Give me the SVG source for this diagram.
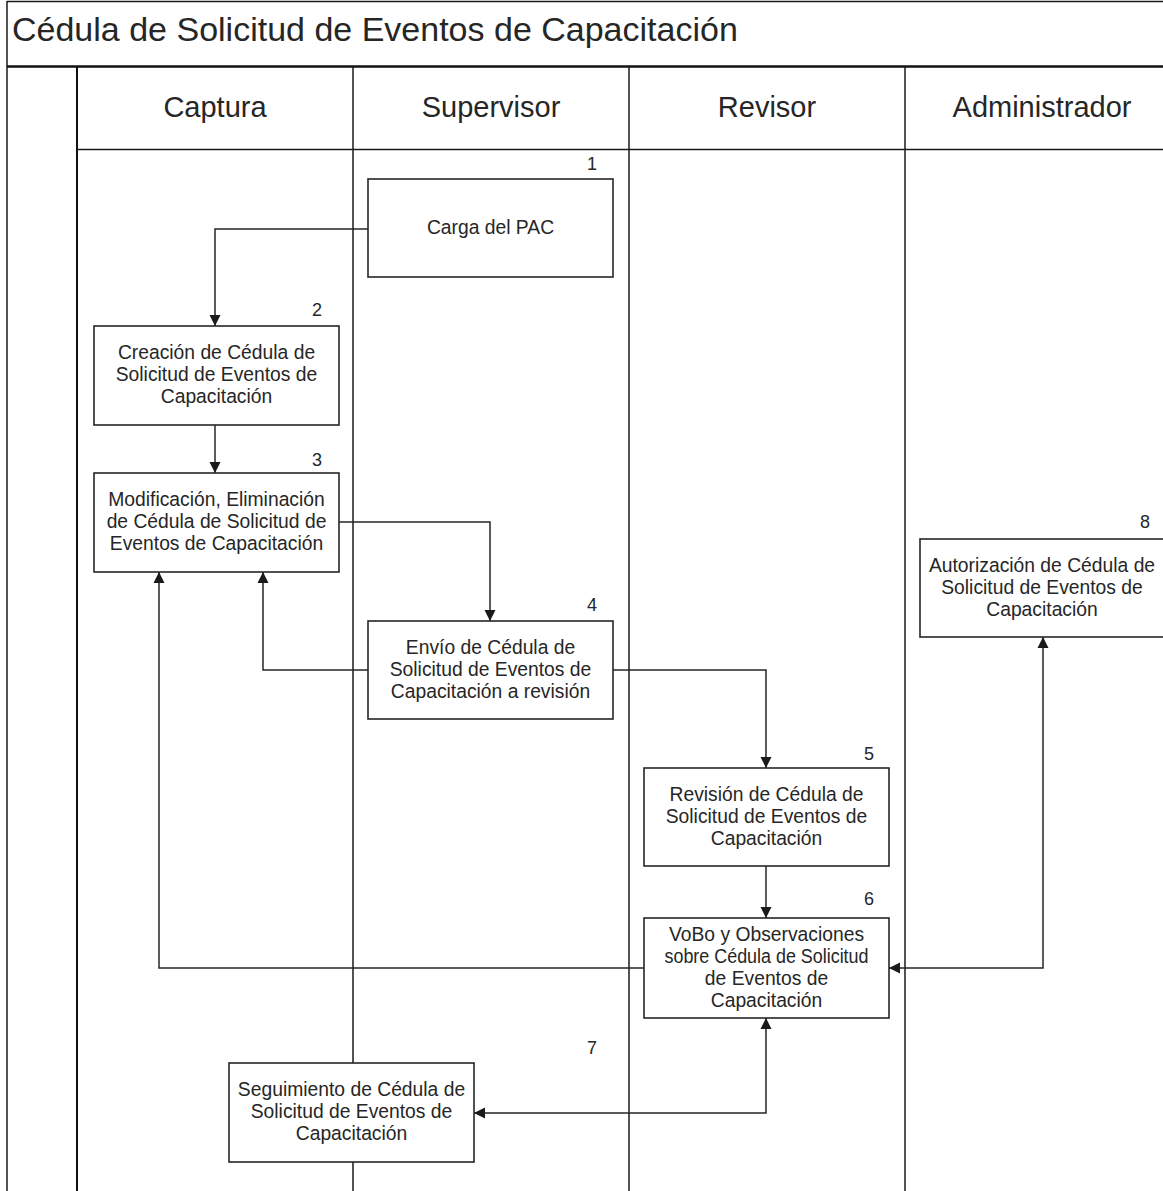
<svg xmlns="http://www.w3.org/2000/svg" width="1163" height="1191" viewBox="0 0 1163 1191">
  <style>
    text { font-family: "Liberation Sans", Arial, sans-serif; fill: #262626; }
    .title { font-size: 34px; }
    .lane { font-size: 29px; text-anchor: middle; }
    .body { font-size: 19.3px; text-anchor: middle; }
    .num { font-size: 18px; text-anchor: end; }
    .box { fill: #ffffff; stroke: #262626; stroke-width: 1.6; }
    .frame { fill: none; stroke: #1a1a1a; stroke-width: 1.5; }
    .conn { fill: none; stroke: #262626; stroke-width: 1.5; }
  </style>
  <defs>
    <marker id="arr" markerUnits="userSpaceOnUse" markerWidth="12" markerHeight="12" refX="11" refY="5.5" orient="auto-start-reverse" viewBox="0 0 12 11">
      <path d="M0,0 L11,5.5 L0,11 z" fill="#1a1a1a"/>
    </marker>
  </defs>
  <rect width="1163" height="1191" fill="#ffffff"/>

  <g id="frame">
    <line class="frame" x1="7" y1="1.5" x2="1163" y2="1.5"/>
    <line class="frame" x1="7" y1="1" x2="7" y2="1191"/>
    <line x1="7" y1="66.5" x2="1163" y2="66.5" stroke="#111" stroke-width="2.5"/>
    <line x1="77" y1="66" x2="77" y2="1191" stroke="#111" stroke-width="2"/>
    <line class="frame" x1="353" y1="66" x2="353" y2="1191"/>
    <line class="frame" x1="629" y1="66" x2="629" y2="1191"/>
    <line class="frame" x1="905" y1="66" x2="905" y2="1191"/>
    <line class="frame" x1="77" y1="149.5" x2="1163" y2="149.5"/>
    <text class="title" x="12" y="41">Cédula de Solicitud de Eventos de Capacitación</text>
    <text class="lane" x="215" y="117">Captura</text>
    <text class="lane" x="491" y="117">Supervisor</text>
    <text class="lane" x="767" y="117">Revisor</text>
    <text class="lane" x="1042" y="117">Administrador</text>
  </g>

  <g id="connectors">
    <path class="conn" d="M368,229 H215 V326" marker-end="url(#arr)"/>
    <path class="conn" d="M215,425 V473" marker-end="url(#arr)"/>
    <path class="conn" d="M339,522 H490 V621" marker-end="url(#arr)"/>
    <path class="conn" d="M368,670 H263 V572" marker-end="url(#arr)"/>
    <path class="conn" d="M613,670 H766 V768" marker-end="url(#arr)"/>
    <path class="conn" d="M766,866 V918" marker-end="url(#arr)"/>
    <path class="conn" d="M644,968 H159 V572" marker-end="url(#arr)"/>
    <path class="conn" d="M474,1113 H766 V1018" marker-start="url(#arr)" marker-end="url(#arr)"/>
    <path class="conn" d="M889,968 H1043 V637" marker-start="url(#arr)" marker-end="url(#arr)"/>
  </g>

  <g id="node1">
    <rect class="box" x="368" y="179" width="245" height="98"/>
    <text class="num" x="597" y="170">1</text>
    <text class="body" x="490.5" y="234">Carga del PAC</text>
  </g>
  <g id="node2">
    <rect class="box" x="94" y="326" width="245" height="99"/>
    <text class="num" x="322" y="316">2</text>
    <text class="body" x="216.5" y="359">Creación de Cédula  de</text>
    <text class="body" x="216.5" y="381">Solicitud de Eventos de</text>
    <text class="body" x="216.5" y="403">Capacitación</text>
  </g>
  <g id="node3">
    <rect class="box" x="94" y="473" width="245" height="99"/>
    <text class="num" x="322" y="466">3</text>
    <text class="body" x="216.5" y="506">Modificación, Eliminación</text>
    <text class="body" x="216.5" y="528">de Cédula de Solicitud de</text>
    <text class="body" x="216.5" y="550">Eventos de Capacitación</text>
  </g>
  <g id="node4">
    <rect class="box" x="368" y="621" width="245" height="98"/>
    <text class="num" x="597" y="611">4</text>
    <text class="body" x="490.5" y="654">Envío de Cédula de</text>
    <text class="body" x="490.5" y="676">Solicitud de Eventos de</text>
    <text class="body" x="490.5" y="698">Capacitación a revisión</text>
  </g>
  <g id="node5">
    <rect class="box" x="644" y="768" width="245" height="98"/>
    <text class="num" x="874" y="760">5</text>
    <text class="body" x="766.5" y="801">Revisión de Cédula de</text>
    <text class="body" x="766.5" y="823">Solicitud de Eventos de</text>
    <text class="body" x="766.5" y="845">Capacitación</text>
  </g>
  <g id="node6">
    <rect class="box" x="644" y="918" width="245" height="100"/>
    <text class="num" x="874" y="905">6</text>
    <text class="body" x="766.5" y="941">VoBo y Observaciones</text>
    <text class="body" x="766.5" y="963" textLength="204" lengthAdjust="spacingAndGlyphs">sobre Cédula de Solicitud</text>
    <text class="body" x="766.5" y="985">de Eventos de</text>
    <text class="body" x="766.5" y="1007">Capacitación</text>
  </g>
  <g id="node7">
    <rect class="box" x="229" y="1063" width="245" height="99"/>
    <text class="num" x="597" y="1054">7</text>
    <text class="body" x="351.5" y="1096">Seguimiento de Cédula de</text>
    <text class="body" x="351.5" y="1118">Solicitud de Eventos de</text>
    <text class="body" x="351.5" y="1140">Capacitación</text>
  </g>
  <g id="node8">
    <rect class="box" x="920" y="539" width="245" height="98"/>
    <text class="num" x="1150" y="528">8</text>
    <text class="body" x="1042" y="572">Autorización de Cédula de</text>
    <text class="body" x="1042" y="594">Solicitud de Eventos de</text>
    <text class="body" x="1042" y="616">Capacitación</text>
  </g>
</svg>
